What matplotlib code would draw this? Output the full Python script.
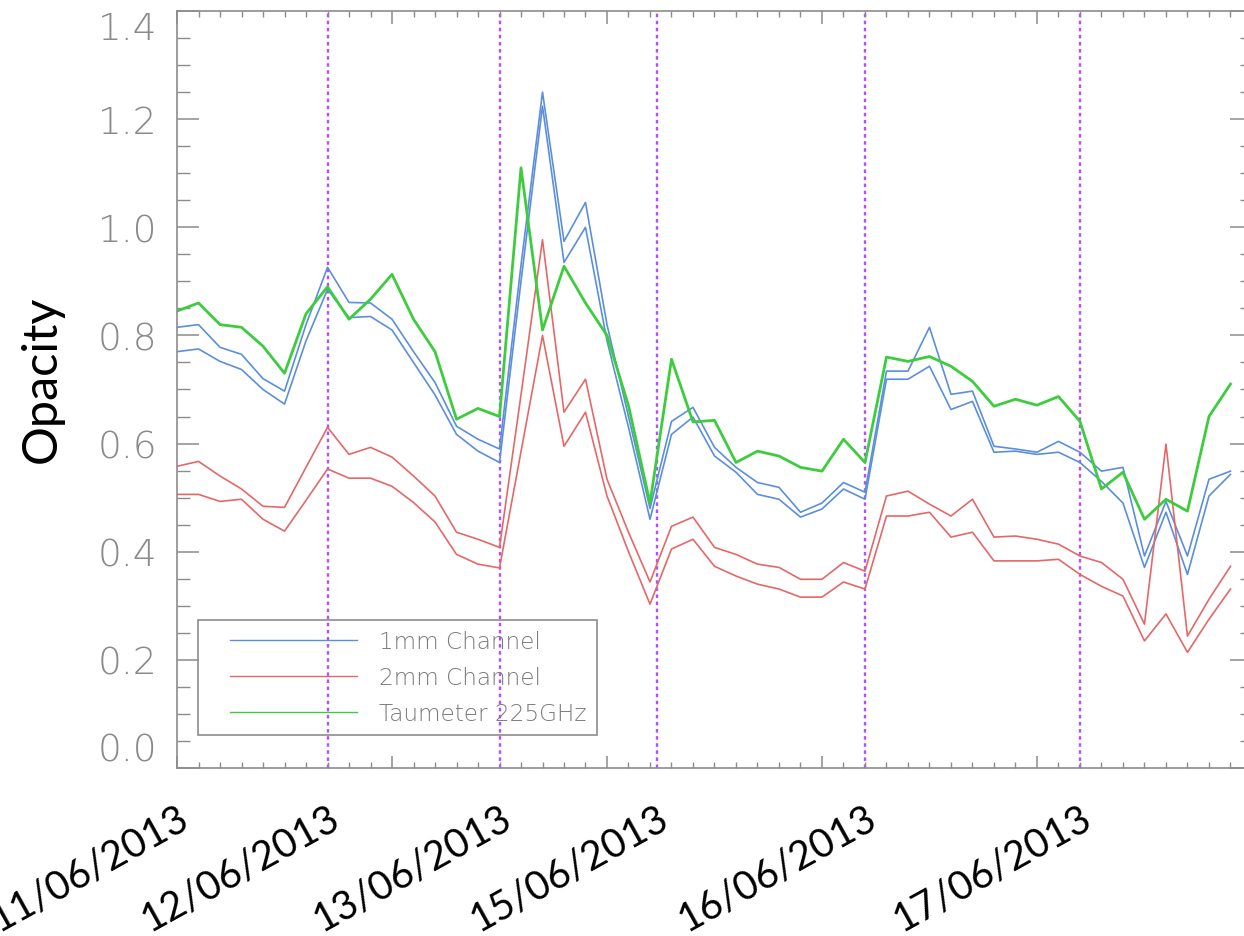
import numpy as np
import matplotlib
matplotlib.use('Agg')
import matplotlib.pyplot as plt
from matplotlib.ticker import MultipleLocator
from matplotlib.patches import Rectangle

# scan index along the x axis
scan = np.arange(50)

# 1mm channel (two pixels)
mm1_a = [0.815, 0.82, 0.778, 0.765, 0.72, 0.697, 0.82, 0.926, 0.861, 0.86,
         0.83, 0.77, 0.713, 0.632, 0.608, 0.59, 0.93, 1.25, 0.974, 1.046,
         0.82, 0.65, 0.48, 0.641, 0.667, 0.593, 0.556, 0.528, 0.519, 0.473,
         0.49, 0.528, 0.51, 0.734, 0.734, 0.815, 0.691, 0.697, 0.595, 0.59,
         0.584, 0.604, 0.584, 0.549, 0.556, 0.392, 0.493, 0.392, 0.534, 0.549]
mm1_b = [0.77, 0.775, 0.752, 0.737, 0.70, 0.673, 0.79, 0.885, 0.833, 0.835,
         0.81, 0.75, 0.69, 0.617, 0.586, 0.565, 0.90, 1.224, 0.935, 1.0,
         0.79, 0.63, 0.46, 0.617, 0.649, 0.577, 0.547, 0.506, 0.497, 0.464,
         0.479, 0.516, 0.497, 0.719, 0.719, 0.743, 0.663, 0.678, 0.584, 0.586,
         0.58, 0.584, 0.565, 0.53, 0.49, 0.371, 0.473, 0.358, 0.503, 0.543]

# 2mm channel (two pixels)
mm2_a = [0.558, 0.567, 0.54, 0.516, 0.484, 0.482, 0.556, 0.63, 0.58, 0.593,
         0.575, 0.54, 0.503, 0.436, 0.423, 0.408, 0.69, 0.977, 0.658, 0.719,
         0.534, 0.436, 0.344, 0.447, 0.464, 0.408, 0.395, 0.377, 0.371, 0.349,
         0.349, 0.38, 0.364, 0.503, 0.512, 0.488, 0.466, 0.497, 0.427, 0.429,
         0.423, 0.414, 0.392, 0.38, 0.349, 0.266, 0.599, 0.244, 0.312, 0.373]
mm2_b = [0.506, 0.506, 0.493, 0.497, 0.46, 0.438, 0.495, 0.553, 0.536, 0.536,
         0.521, 0.491, 0.455, 0.395, 0.377, 0.37, 0.585, 0.80, 0.595, 0.658,
         0.503, 0.40, 0.303, 0.405, 0.423, 0.373, 0.355, 0.34, 0.331, 0.316,
         0.316, 0.344, 0.331, 0.466, 0.466, 0.473, 0.427, 0.436, 0.383, 0.383,
         0.383, 0.386, 0.358, 0.336, 0.318, 0.235, 0.285, 0.214, 0.275, 0.331]

# taumeter 225 GHz
taumeter = [0.845, 0.86, 0.82, 0.815, 0.78, 0.73, 0.84, 0.89, 0.83, 0.867,
            0.913, 0.83, 0.77, 0.645, 0.665, 0.65, 1.11, 0.81, 0.928, 0.86,
            0.80, 0.67, 0.49, 0.756, 0.64, 0.643, 0.565, 0.586, 0.577, 0.556,
            0.549, 0.608, 0.565, 0.76, 0.752, 0.761, 0.743, 0.715, 0.669, 0.682,
            0.671, 0.687, 0.641, 0.516, 0.547, 0.46, 0.497, 0.475, 0.65, 0.71]

# start of each day (in scan index) and labels
day_start = [0, 7, 15, 22.33, 32, 42]
day_labels = ['11/06/2013', '12/06/2013', '13/06/2013', '15/06/2013',
              '16/06/2013', '17/06/2013']

blue = '#5b8fdb'
red = '#e46868'
green = '#3dcc3d'
purple = '#b84dff'
axcol = '#8c8c8c'

fig = plt.figure(figsize=(12.44, 9.37), dpi=100)
ax = fig.add_axes([0.1423, 0.1793, 0.8641, 0.8079])

ax.plot(scan, mm1_a, color=blue, lw=1.2, label='1mm Channel')
ax.plot(scan, mm1_b, color=blue, lw=1.2)
ax.plot(scan, mm2_a, color=red, lw=1.2, label='2mm Channel')
ax.plot(scan, mm2_b, color=red, lw=1.2)
ax.plot(scan, taumeter, color=green, lw=2.0, label='Taumeter 225GHz')

for d in day_start[1:]:
    ax.axvline(d, color=purple, lw=1.7, linestyle=(0, (1.5, 1.5)), zorder=0)

ax.set_xlim(0, 50)
ax.set_ylim(0, 1.4)

# IDL-like axes
for s in ax.spines.values():
    s.set_color(axcol)
    s.set_linewidth(1.2)
ax.xaxis.set_major_locator(MultipleLocator(10))
ax.xaxis.set_minor_locator(MultipleLocator(1))
ax.yaxis.set_minor_locator(MultipleLocator(0.05))
ax.tick_params(axis='x', which='major', direction='in', length=9, width=1.1,
               color=axcol, top=True, bottom=True, labelbottom=False)
ax.tick_params(axis='x', which='minor', direction='in', length=4, width=1.0,
               color=axcol, top=True, bottom=True)
ax.tick_params(axis='y', which='major', direction='in', length=16, width=1.1,
               color=axcol, left=True, right=True, labelsize=27,
               labelcolor='#8a8a8a', pad=14)
ax.tick_params(axis='y', which='minor', direction='in', length=9, width=1.0,
               color=axcol, left=True, right=True)
yt = np.arange(0, 1.41, 0.2)
ax.set_yticks(yt)
ax.set_yticklabels([f'{v:.1f}' for v in yt])
ylabs = ax.get_yticklabels()
for t in ylabs:
    t.set_fontweight('light')
ylabs[0].set_va('bottom')
ylabs[-1].set_va('top')

ax.set_ylabel('Opacity', fontsize=35, family='Lato', color='black')
ax.yaxis.set_label_coords(-0.105, 0.515)

# date labels under the day boundaries
for d, lab in zip(day_start, day_labels):
    ax.text(d, -0.04, lab, transform=ax.get_xaxis_transform(), rotation=29,
            ha='right', va='top', rotation_mode='anchor', fontsize=28.5,
            family='Lato', color='black')

leg = ax.legend(loc='lower left', bbox_to_anchor=(0.0394, 0.043),
                borderaxespad=0, fontsize=16.7, handlelength=5.5,
                handletextpad=0.95, borderpad=0.45, labelspacing=0.55,
                frameon=False)
for t in leg.get_texts():
    t.set_color('#7a7a7a')
    t.set_fontweight('light')
for l in leg.get_lines():
    l.set_linewidth(1.0)

# IDL style box: wider padding on the left than elsewhere
fig.canvas.draw()
bb = leg.get_window_extent().transformed(ax.transAxes.inverted())
extra = 21 / 1075
ax.add_patch(Rectangle((bb.x0 - extra, bb.y0), bb.width + extra, bb.height,
                       transform=ax.transAxes, fill=False, edgecolor=axcol,
                       lw=1.2, zorder=4))

fig.savefig('out.png', dpi=100)
